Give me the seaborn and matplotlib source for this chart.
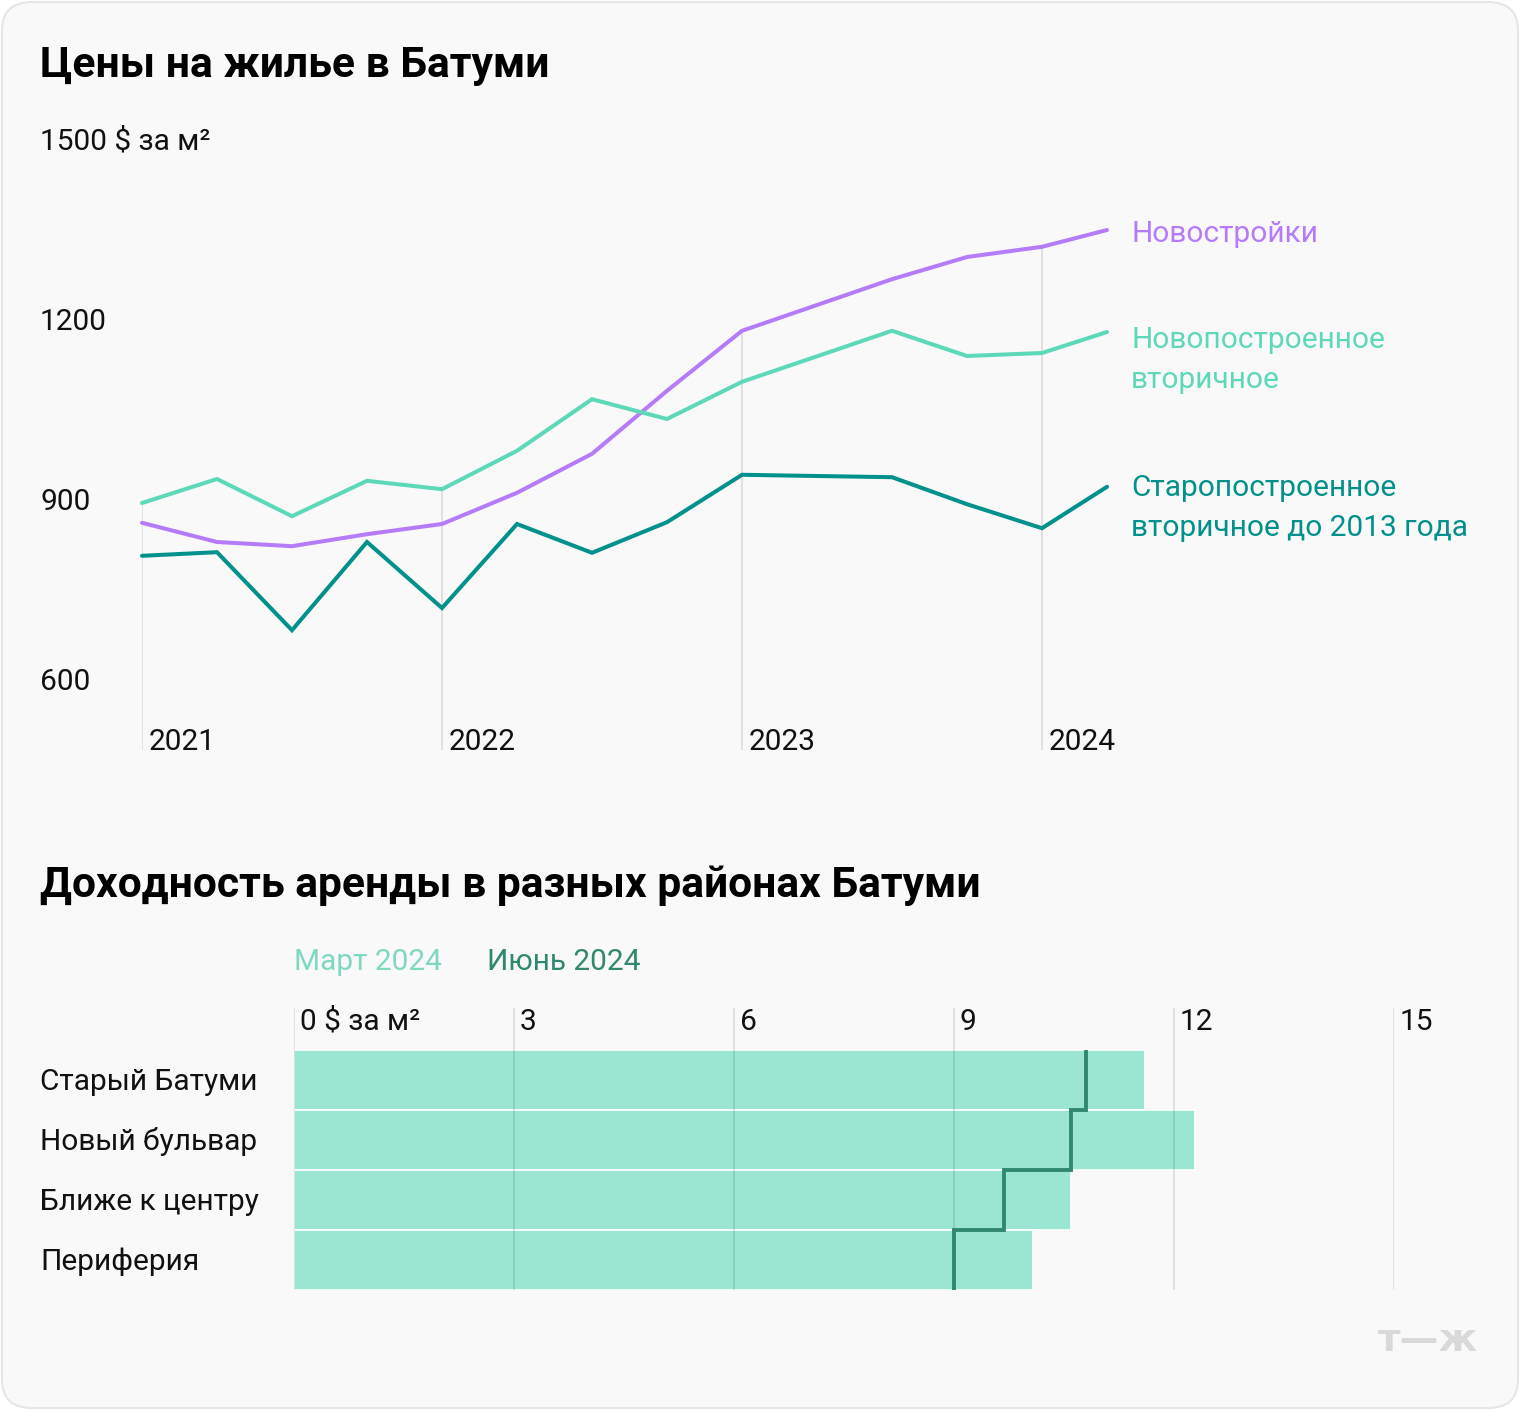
import numpy as np
import pandas as pd
import matplotlib
matplotlib.use("Agg")
import matplotlib.pyplot as plt
import matplotlib.transforms as mtransforms
from matplotlib.patches import FancyBboxPatch
import seaborn as sns

# --- data: house prices, $ per m², months counted from Jan 2021
months = [0, 3, 6, 9, 12, 15, 18, 21, 24, 30, 33, 36, 38.6]
new_build = [862, 830, 823, 843, 860, 912, 977, 1082, 1182, 1268, 1305, 1322, 1350]
new_resale = [895, 935, 873, 932, 918, 982, 1068, 1035, 1097, 1182, 1140, 1145, 1180]
old_resale = [807, 813, 683, 830, 720, 860, 812, 863, 942, 938, 893, 853, 922]
series_names = ["Новостройки", "Новопостроенное\nвторичное", "Старопостроенное\nвторичное до 2013 года"]
year_labels = ["2021", "2022", "2023", "2024"]
year_pos = [0, 12, 24, 36]
price_ticks = [600, 900, 1200, 1500]

# --- data: rental yield, $ per m²
districts = ["Старый Батуми", "Новый бульвар", "Ближе к центру", "Периферия"]
march_2024 = [11.6, 12.28, 10.6, 10.08]
june_2024 = [10.8, 10.6, 9.68, 9.0]
yield_ticks = [0, 3, 6, 9, 12, 15]

PURPLE = "#b57cf9"
MINT = "#5dd8b8"
TEAL = "#00918c"
BAR = "#9be6d3"
JUNE = "#30896e"
GRID = "#e0e0e0"
FS = 21.5
TFS = 30.7
DY = 2  # matplotlib centres text slightly high; nudge down (px)

sns.set_theme(style="white")
plt.rcParams["font.family"] = ["Roboto", "DejaVu Sans"]

W, H = 1520, 1410
fig = plt.figure(figsize=(W / 100, H / 100), dpi=100)
fig.patch.set_facecolor("white")
card = FancyBboxPatch((2 / W, 2 / H), 1 - 4 / W, 1 - 4 / H,
                      boxstyle="round,pad=0,rounding_size=0.02",
                      transform=fig.transFigure, facecolor="#f9f9f9",
                      edgecolor="#e6e6e6", linewidth=1.5, zorder=-10)
fig.patches.append(card)

def px_x(x):
    return x / W

def px_y(y):
    return 1 - y / H

# ---------------- top chart ----------------
ax = fig.add_axes([px_x(142), px_y(750), 975 / W, 610 / H])
ax.set_facecolor("none")
y_bottom = 900 - 250 / 0.6
ax.set_xlim(0, 39)
ax.set_ylim(y_bottom, 1500)

df = pd.DataFrame({
    "month": months * 3,
    "price": new_build + new_resale + old_resale,
    "series": [series_names[0]] * len(months) + [series_names[1]] * len(months)
              + [series_names[2]] * len(months),
})
palette = {series_names[0]: PURPLE, series_names[1]: MINT, series_names[2]: TEAL}

# year gridlines run from the bottom up to the highest line
top_vals = np.max([new_build, new_resale, old_resale], axis=0)
for yp in year_pos:
    ax.vlines(yp, y_bottom, top_vals[months.index(yp)], color=GRID, lw=1.4, zorder=1)

sns.lineplot(data=df, x="month", y="price", hue="series", palette=palette,
             lw=2.9, legend=False, ax=ax, zorder=3)
for line in ax.lines:
    line.set_clip_on(False)
    line.set_solid_joinstyle("miter")

for spine in ax.spines.values():
    spine.set_visible(False)
ax.set_xticks([])
ax.set_yticks([])
ax.set_xlabel("")
ax.set_ylabel("")

ytrans = mtransforms.blended_transform_factory(fig.transFigure, ax.transData)
for t in price_ticks:
    lab = f"{t} $ за м²" if t == 1500 else str(t)
    ax.text(px_x(40), t - DY / 0.6, lab, transform=ytrans, ha="left", va="center",
            fontsize=FS, color="#111111")

xtrans = mtransforms.blended_transform_factory(ax.transData, fig.transFigure)
for yp, lab in zip(year_pos, year_labels):
    ax.text(yp + 0.25, px_y(740 + DY), lab, transform=xtrans, ha="left", va="center",
            fontsize=FS, color="#111111")

label_rows = [(series_names[0], [232]), (series_names[1], [338, 378]),
              (series_names[2], [486, 526])]
for name, ys in label_rows:
    for part, yy in zip(name.split("\n"), ys):
        fig.text(px_x(1131), px_y(yy + DY), part, ha="left", va="center",
                 fontsize=FS, color=palette[name])

fig.text(px_x(40), px_y(63 + DY), "Цены на жилье в Батуми", ha="left", va="center",
         fontsize=TFS, fontweight="bold", color="#000000")

# ---------------- bottom chart ----------------
fig.text(px_x(40), px_y(883 + DY), "Доходность аренды в разных районах Батуми",
         ha="left", va="center", fontsize=TFS, fontweight="bold", color="#000000")
fig.text(px_x(294), px_y(960 + DY), "Март 2024", ha="left", va="center",
         fontsize=FS, color="#7fd8c0")
fig.text(px_x(487), px_y(960 + DY), "Июнь 2024", ha="left", va="center",
         fontsize=FS, color=JUNE)

bx = fig.add_axes([px_x(294), px_y(1290), 1100 / W, 290 / H])
bx.set_facecolor("none")
bdf = pd.DataFrame({"district": districts, "march": march_2024})
sns.barplot(data=bdf, x="march", y="district", orient="h", color=BAR,
            saturation=1, width=1.0, edgecolor="white", linewidth=1.2,
            ax=bx, zorder=2)
top_lim = -0.5 - 50 / 60
bx.set_xlim(0, 15)
bx.set_ylim(3.5, top_lim)

bx.vlines(yield_ticks, -0.5 - 42 / 60, 3.5, color="black", alpha=0.1, lw=1.4, zorder=3)
bx.stairs(june_2024, np.arange(-0.5, len(districts)), orientation="horizontal",
          baseline=None, color=JUNE, lw=2.8, zorder=4)

for t in yield_ticks:
    lab = f"{t} $ за м²" if t == 0 else str(t)
    bx.text(t + 0.08, -1.0 + DY / 60, lab, ha="left", va="center", fontsize=FS,
            color="#111111")

btrans = mtransforms.blended_transform_factory(fig.transFigure, bx.transData)
for i, d in enumerate(districts):
    bx.text(px_x(40), i + DY / 60, d, transform=btrans, ha="left", va="center",
            fontsize=FS, color="#111111")

for spine in bx.spines.values():
    spine.set_visible(False)
bx.set_xticks([])
bx.set_yticks([])
bx.set_xlabel("")
bx.set_ylabel("")

fig.text(px_x(1478), px_y(1340), "т—ж", ha="right", va="center",
         fontsize=28, fontweight="bold", family="DejaVu Sans", color="#d9d9d9")

fig.savefig("out.png", dpi=100, facecolor=fig.get_facecolor())
